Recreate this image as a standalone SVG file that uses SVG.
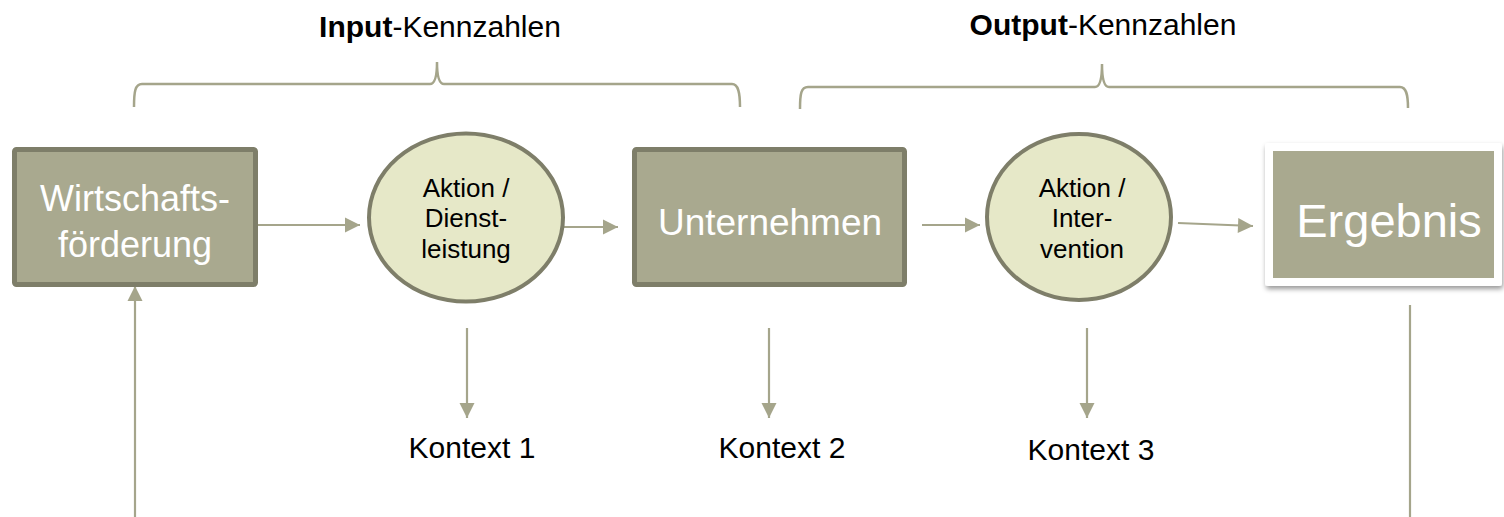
<svg xmlns="http://www.w3.org/2000/svg" width="1504" height="517" viewBox="0 0 1504 517">
<defs>
<marker id="ah" markerUnits="userSpaceOnUse" markerWidth="18" markerHeight="18" viewBox="0 0 18 18" refX="16" refY="9" orient="auto">
<path d="M1,1.5 L16,9 L1,16.5 Z" fill="#a5a58b"/>
</marker>
<filter id="sh" x="-10%" y="-10%" width="120%" height="130%">
<feDropShadow dx="1" dy="3" stdDeviation="2.5" flood-color="#000" flood-opacity="0.4"/>
</filter>
<style>
.conn{fill:none;stroke:#a5a58b;stroke-width:2.2}
.brace{fill:none;stroke:#a5a58b;stroke-width:2.5}
.box{fill:#a9a98f;stroke:#7e7e69;stroke-width:5}
.ell{fill:#e6e8c8;stroke:#7e7e69;stroke-width:4}
.bt{font-family:"Liberation Sans",Arial,sans-serif;fill:#ffffff;text-anchor:middle}
.et{font-family:"Liberation Sans",Arial,sans-serif;fill:#000;font-size:26px;text-anchor:middle}
.lt{font-family:"Liberation Sans",Arial,sans-serif;fill:#000;font-size:30px;text-anchor:middle}
</style>
</defs>
<rect width="1504" height="517" fill="#ffffff"/>
<g id="titles">
<text class="lt" x="440" y="37"><tspan font-weight="bold">Input</tspan>-Kennzahlen</text>
<text class="lt" x="1103" y="35"><tspan font-weight="bold">Output</tspan>-Kennzahlen</text>
</g>
<g id="braces">
<path class="brace" d="M134,107 C134,92 135,84 142,84 L430,84 C435,84 437,76 437,62 C437,76 439,84 444,84 L732,84 C738,84 740,92 740,107"/>
<path class="brace" d="M800,109 C800,94 801,87 808,87 L1095,87 C1100,87 1102,78 1102,64 C1102,78 1104,87 1109,87 L1400,87 C1406,87 1408,94 1408,108"/>
</g>
<g id="connectors">
<line class="conn" x1="258" y1="225" x2="360" y2="225" marker-end="url(#ah)"/>
<line class="conn" x1="550" y1="227" x2="618" y2="227" marker-end="url(#ah)"/>
<line class="conn" x1="922" y1="225" x2="980" y2="225" marker-end="url(#ah)"/>
<line class="conn" x1="1178" y1="223" x2="1253" y2="226" marker-end="url(#ah)"/>
<line class="conn" x1="467" y1="328" x2="467" y2="418" marker-end="url(#ah)"/>
<line class="conn" x1="769" y1="328" x2="769" y2="418" marker-end="url(#ah)"/>
<line class="conn" x1="1087" y1="328" x2="1087" y2="418" marker-end="url(#ah)"/>
<line class="conn" x1="135" y1="517" x2="135" y2="286" marker-end="url(#ah)"/>
<line class="conn" x1="1410" y1="305" x2="1410" y2="517"/>
</g>
<g id="wirtschaftsfoerderung">
<rect class="box" x="14.5" y="149.5" width="241" height="135" rx="2"/>
<text class="bt" x="135" y="211" font-size="36">Wirtschafts-</text>
<text class="bt" x="135" y="257" font-size="36">förderung</text>
</g>
<g id="aktion1">
<ellipse class="ell" cx="466" cy="217.5" rx="97" ry="84"/>
<text class="et" x="466" y="197">Aktion /</text>
<text class="et" x="466" y="227">Dienst-</text>
<text class="et" x="466" y="258">leistung</text>
</g>
<g id="unternehmen">
<rect class="box" x="634.5" y="149.5" width="270" height="135" rx="2"/>
<text class="bt" x="770" y="235" font-size="37">Unternehmen</text>
</g>
<g id="aktion2">
<ellipse class="ell" cx="1079" cy="217" rx="92" ry="83"/>
<text class="et" x="1082" y="197">Aktion /</text>
<text class="et" x="1082" y="227">Inter-</text>
<text class="et" x="1082" y="258">vention</text>
</g>
<g id="ergebnis">
<rect x="1265" y="143" width="237" height="143" rx="3" fill="#ffffff" filter="url(#sh)"/>
<rect x="1273" y="151" width="221" height="127" fill="#a9a98f"/>
<text class="bt" x="1389" y="237" font-size="47">Ergebnis</text>
</g>
<g id="kontexte">
<text class="lt" x="472" y="458">Kontext 1</text>
<text class="lt" x="782" y="458">Kontext 2</text>
<text class="lt" x="1091" y="460">Kontext 3</text>
</g>
</svg>
